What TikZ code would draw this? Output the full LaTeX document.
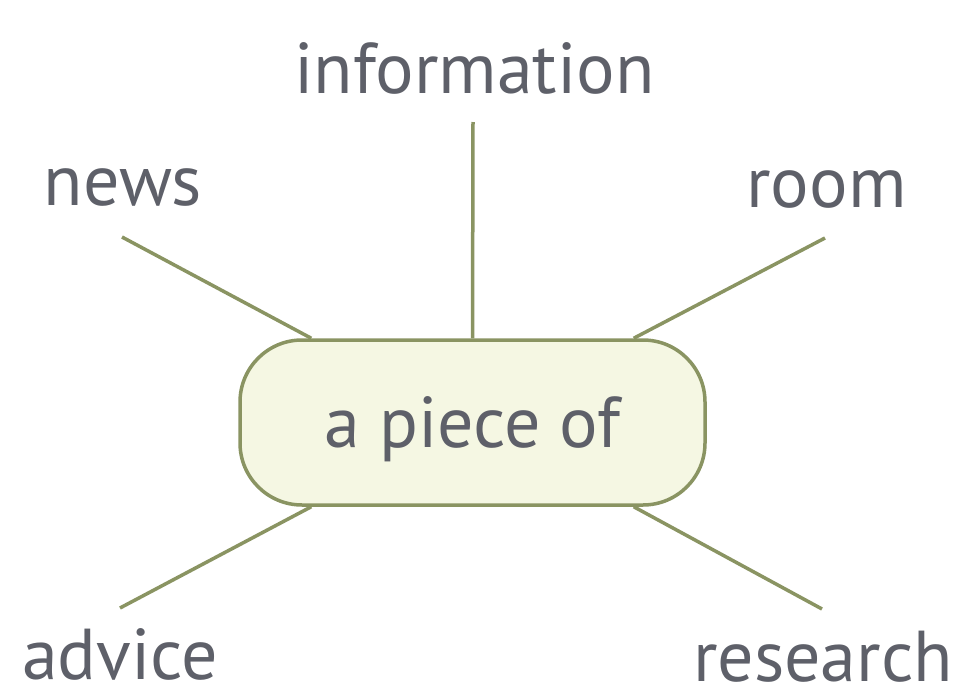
\documentclass[tikz,border=0pt]{standalone}
\usepackage{fontspec}
\setmainfont{PT Sans}
\usetikzlibrary{positioning}
\definecolor{PieceOlive}{HTML}{8A9462}
\definecolor{PieceFill}{HTML}{F5F7E3}
\definecolor{PieceText}{HTML}{5E6069}

\begin{document}
\begin{tikzpicture}[
  x=1pt, y=-1pt,
  hub/.style={draw=PieceOlive,line width=3.5pt,fill=PieceFill,rounded corners=62pt,
    minimum width=465pt,minimum height=165pt,inner sep=0pt,text depth=0pt,text=PieceText,
    font=\fontsize{72}{76}\selectfont},
  word/.style={anchor=base,inner sep=0pt,text=PieceText,font=\fontsize{72}{76}\selectfont},
  spoke/.style={PieceOlive,line width=3.5pt}
]
  \useasboundingbox (0,0) rectangle (959,696);

  \node[hub] (hub) at (472.5,422.5) {a piece of};

  \node[word] (info) at (474.5,93) {information};
  \node[word] (news) at (123,205) {news};
  \node[word] (room) at (826.5,207) {room};
  \node[word] (advice) at (120,679) {advice};
  \node[word] (research) at (823,681) {research};

  \coordinate (infoend) at (473,122);
  \coordinate (newsend) at (122,237);
  \coordinate (roomend) at (825,238);
  \coordinate (adviceend) at (120,608);
  \coordinate (researchend) at (822,609);

  \draw[spoke] (infoend) -- (hub.north);
  \draw[spoke] (newsend) -- ([xshift=73pt]hub.north west);
  \draw[spoke] (roomend) -- ([xshift=-73pt]hub.north east);
  \draw[spoke] (adviceend) -- ([xshift=73pt]hub.south west);
  \draw[spoke] (researchend) -- ([xshift=-73pt]hub.south east);
\end{tikzpicture}
\end{document}
